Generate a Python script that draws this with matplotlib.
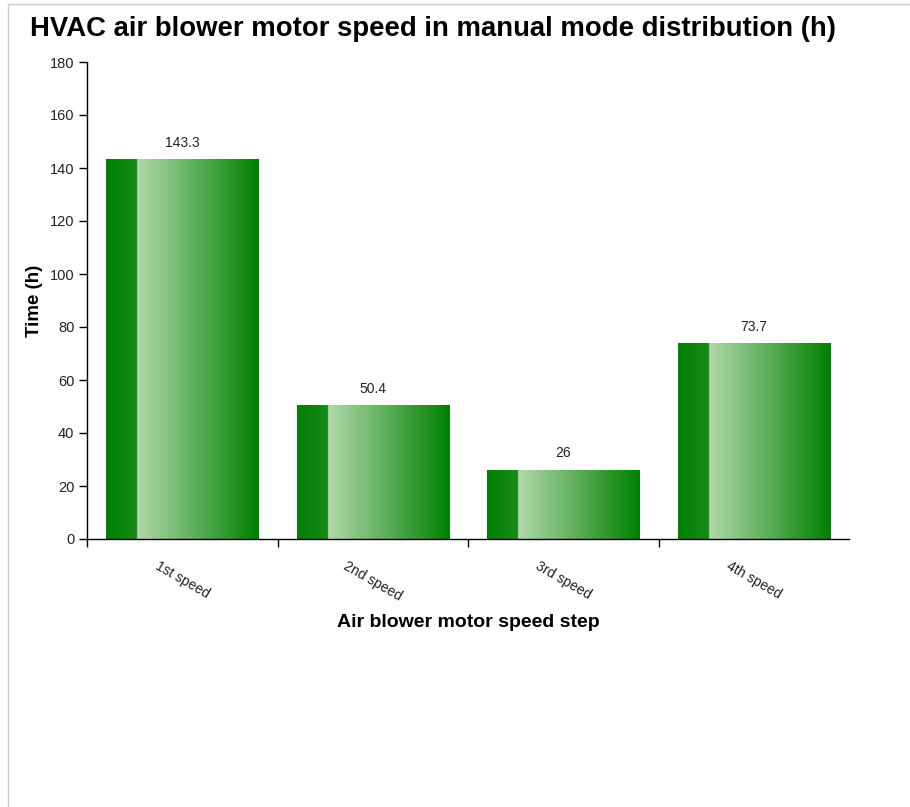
import matplotlib
matplotlib.use("Agg")
import matplotlib.pyplot as plt
import numpy as np
from matplotlib.colors import LinearSegmentedColormap
from matplotlib.lines import Line2D

categories = ["1st speed", "2nd speed", "3rd speed", "4th speed"]
values = [143.3, 50.4, 26, 73.7]
value_labels = ["143.3", "50.4", "26", "73.7"]
y_ticks = [0, 20, 40, 60, 80, 100, 120, 140, 160, 180]

plt.rcParams['font.family'] = ['Liberation Sans', 'DejaVu Sans']

W, H = 910, 807
fig = plt.figure(figsize=(W/100, H/100), dpi=100)
fig.patch.set_facecolor('white')

L, R, T, B = 87, 849, 62, 539
ax = fig.add_axes([L/W, 1 - B/H, (R-L)/W, (B-T)/H])

cmap = LinearSegmentedColormap.from_list(
    "bar", [(0.0, "#008000"), (0.2, "#1a8a1a"), (0.2001, "#b2d9ac"),
            (0.6, "#5aad56"), (1.0, "#008000")])
grad = np.linspace(0, 1, 256).reshape(1, -1)

bw = 0.8
for i, v in enumerate(values):
    ax.imshow(grad, cmap=cmap, aspect='auto', interpolation='bilinear',
              extent=(i - bw/2, i + bw/2, 0, v), zorder=2)
    ax.annotate(value_labels[i], xy=(i, v), xytext=(0, 7), textcoords='offset points',
                ha='center', va='bottom', fontsize=10, color='#222222')

ax.set_xlim(-0.5, len(categories) - 0.5)
ax.set_ylim(0, 180)
ax.set_yticks(y_ticks)
ax.set_xticks(range(len(categories)))
ax.set_xticklabels(categories, rotation=-30, ha='center', va='top', fontsize=10,
                   color='#222222')
ax.set_xticks(np.arange(-0.5, len(categories) - 1, 1.0), minor=True)
ax.tick_params(axis='x', which='major', length=0, pad=14)
ax.tick_params(axis='x', which='minor', length=6, width=1, color='black', direction='out')
ax.tick_params(axis='y', length=6, width=1, color='black', labelsize=10.5,
               labelcolor='#222222', pad=3)

for s in ['top', 'right']:
    ax.spines[s].set_visible(False)
for s in ['left', 'bottom']:
    ax.spines[s].set_linewidth(1)
    ax.spines[s].set_color('black')

ax.set_xlabel("Air blower motor speed step", fontsize=14, fontweight='bold', labelpad=8)
ax.set_ylabel("Time (h)", fontsize=13.5, fontweight='bold', labelpad=5)

fig.text(30/W, 1 - 29/H, "HVAC air blower motor speed in manual mode distribution (h)",
         fontsize=19.8, fontweight='bold', ha='left', va='center', color='black')

# container border
fig.add_artist(Line2D([8/W, 8/W], [0, 1 - 4/H], transform=fig.transFigure,
                      color='#cccccc', linewidth=1))
fig.add_artist(Line2D([8/W, 1], [1 - 4/H, 1 - 4/H], transform=fig.transFigure,
                      color='#cccccc', linewidth=1))

fig.savefig("out.png", dpi=100, facecolor='white')
